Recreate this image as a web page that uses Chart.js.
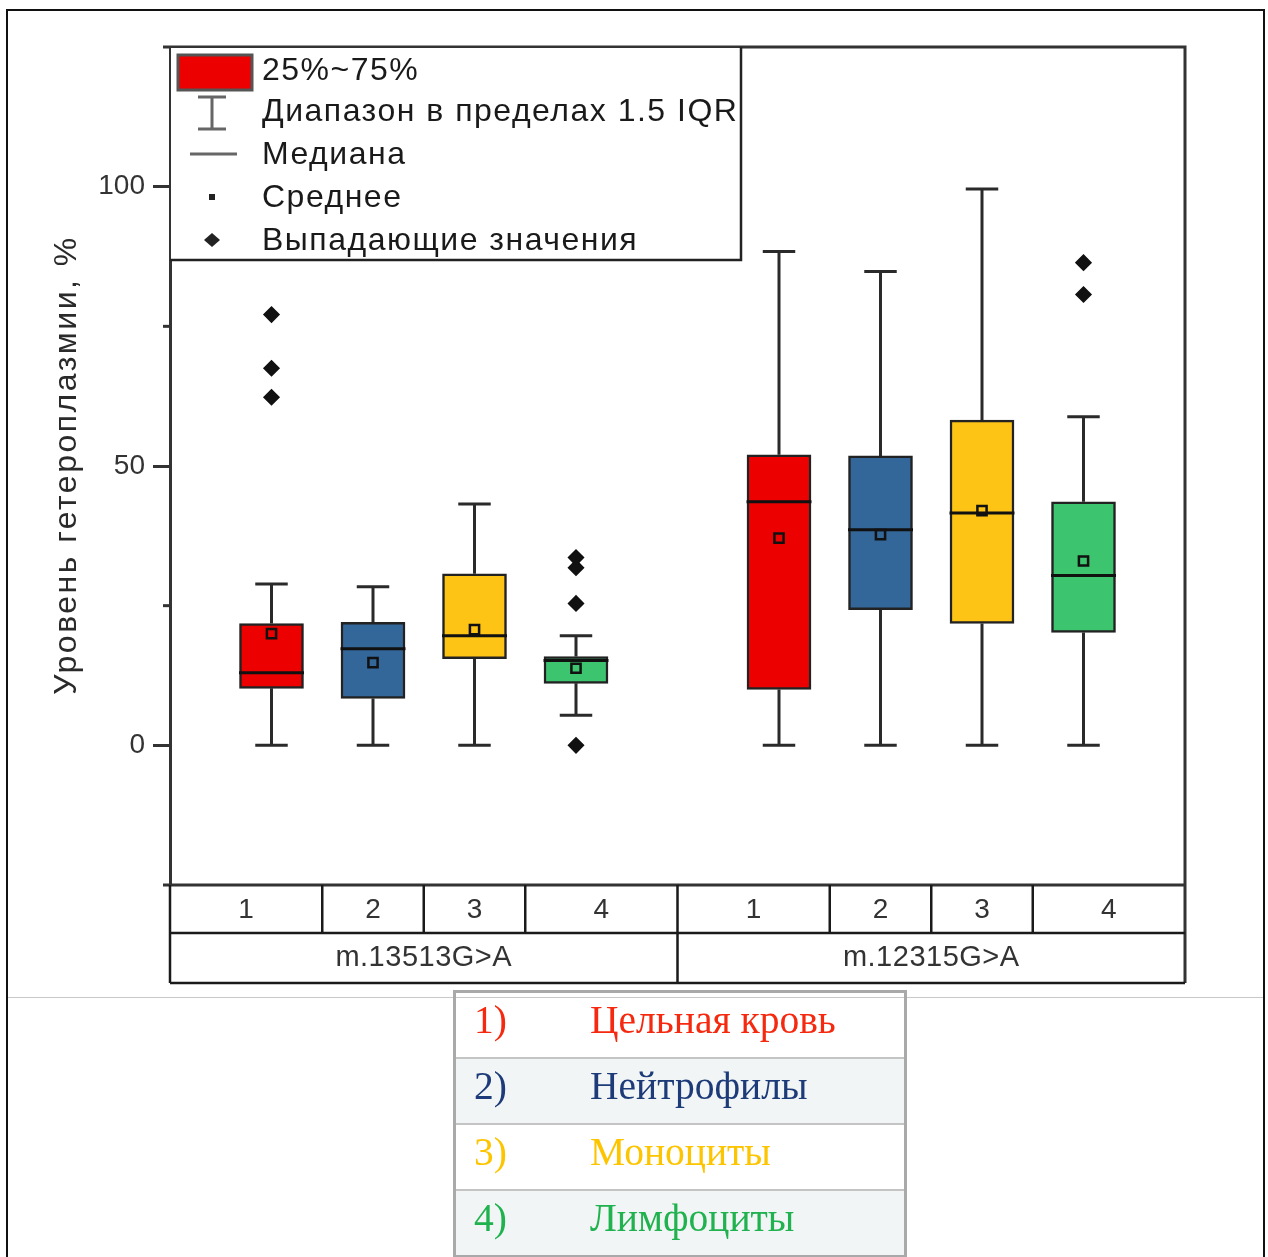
<!DOCTYPE html>
<html>
<head>
<meta charset="utf-8">
<script src="https://cdn.jsdelivr.net/npm/chart.js@4"></script>
<style>
  body { margin: 0; background: #fff; }
  #page { position: relative; width: 1268px; height: 1257px; overflow: hidden; background: #fff; }
  #frame { position: absolute; left: 6px; top: 9px; width: 1255px; height: 1270px; border: 2px solid #111; }
  #sep { position: absolute; left: 8px; top: 997px; width: 1255px; height: 1px; background: #c8c8c8; }
  #chart { position: absolute; left: 0; top: 0; }
  #key { position: absolute; left: 453px; top: 990px; width: 454px; border-collapse: collapse;
         border: 3px solid #a9a9a9; font-family: "Liberation Serif", "Times New Roman", serif; font-size: 39.5px; }
  #key td { height: 56px; padding: 0 0 8px 0; border-bottom: 2px solid #c4c4c4; vertical-align: middle; line-height: 1; }
  #key tr:nth-child(even) td { background: #f1f5f5; }
  #key td.num { width: 116px; padding-left: 18px; }
</style>
</head>
<body>
<div id="page">
  <div id="frame"></div>
  <div id="sep"></div>
  <canvas id="chart" width="1268" height="1000"></canvas>
  <table id="key"></table>
</div>
<script>
// box positions on a 0..10 linear x scale
const xPos = [1, 2, 3, 4, 6, 7, 8, 9];
const q1 = [10.2, 8.4, 15.5, 11.1, 10.0, 24.3, 21.8, 20.2];
const q3 = [21.8, 22.0, 30.7, 15.9, 52.0, 51.8, 58.2, 43.6];
const medians = [13.0, 17.3, 19.6, 15.2, 43.6, 38.6, 41.6, 30.4];
const means = [20.0, 14.8, 20.7, 13.8, 37.1, 37.7, 42.0, 33.0];
const whiskerLow = [0, 0, 0, 5.4, 0, 0, 0, 0];
const whiskerHigh = [28.9, 28.4, 43.2, 19.6, 88.4, 84.8, 99.6, 58.8];
const outliers = [[77.1, 67.5, 62.3], [], [], [33.6, 31.8, 25.4, 0], [], [], [], [86.4, 80.7]];

const boxColors = ['#ec0000', '#336699', '#fdc315', '#3cc46f', '#ec0000', '#336699', '#fdc315', '#3cc46f'];

// x axis table
const cellLabels = ['1', '2', '3', '4', '1', '2', '3', '4'];
const cellEdges = [0, 1.5, 2.5, 3.5, 5, 6.5, 7.5, 8.5, 10];
const groupLabels = ['m.13513G>A', 'm.12315G>A'];
const groupEdges = [0, 5, 10];

const yTitle = 'Уровень гетероплазмии, %';
const yTickValues = [0, 50, 100];
const yMinorTicks = [25, 75];

// legend in plot
const legendLabels = ['25%~75%', 'Диапазон в пределах 1.5 IQR', 'Медиана', 'Среднее', 'Выпадающие значения'];

// key table under chart
const keyNums = ['1)', '2)', '3)', '4)'];
const keyNames = ['Цельная кровь', 'Нейтрофилы', 'Моноциты', 'Лимфоциты'];
const keyColors = ['#f5290f', '#1d3b78', '#fcc500', '#20b24f'];

const key = document.getElementById('key');
keyNames.forEach((name, i) => {
  const tr = document.createElement('tr');
  tr.innerHTML = '<td class="num" style="color:' + keyColors[i] + '">' + keyNums[i] + '</td>' +
    '<td style="color:' + keyColors[i] + '">' + name + '</td>';
  key.appendChild(tr);
});

const capHalf = 0.16, medHalf = 0.32;
const whiskerPts = [];
const medianPts = [];
xPos.forEach((x, i) => {
  whiskerPts.push({x: x - capHalf, y: whiskerLow[i]}, {x: x + capHalf, y: whiskerLow[i]}, {x: x, y: null});
  whiskerPts.push({x: x, y: whiskerLow[i]}, {x: x, y: q1[i]}, {x: x, y: null});
  whiskerPts.push({x: x, y: q3[i]}, {x: x, y: whiskerHigh[i]}, {x: x, y: null});
  whiskerPts.push({x: x - capHalf, y: whiskerHigh[i]}, {x: x + capHalf, y: whiskerHigh[i]}, {x: x, y: null});
  medianPts.push({x: x - medHalf, y: medians[i]}, {x: x + medHalf, y: medians[i]}, {x: x, y: null});
});
const meanPts = xPos.map((x, i) => ({x: x, y: means[i]}));
const outlierPts = [];
xPos.forEach((x, i) => outliers[i].forEach(v => outlierPts.push({x: x, y: v})));

const FONT = 'Liberation Sans, Arial, sans-serif';

const framePlugin = {
  id: 'frame',
  afterDraw(chart) {
    const ctx = chart.ctx, a = chart.chartArea, xs = chart.scales.x, ys = chart.scales.y;
    ctx.save();
    // top + right border
    ctx.strokeStyle = '#333';
    ctx.lineWidth = 3;
    ctx.beginPath();
    ctx.moveTo(a.left - 7, a.top);
    ctx.lineTo(a.right, a.top);
    ctx.lineTo(a.right, a.bottom + 98);
    ctx.stroke();
    // minor ticks
    yMinorTicks.forEach(v => {
      const y = ys.getPixelForValue(v);
      ctx.beginPath();
      ctx.moveTo(a.left - 7, y);
      ctx.lineTo(a.left, y);
      ctx.stroke();
    });
    // x axis line
    ctx.beginPath();
    ctx.moveTo(a.left - 7, a.bottom);
    ctx.lineTo(a.right, a.bottom);
    ctx.stroke();

    // y title
    ctx.save();
    ctx.translate(67, (a.top + a.bottom) / 2 - 1);
    ctx.rotate(-Math.PI / 2);
    ctx.fillStyle = '#2a2a2a';
    ctx.font = '32px ' + FONT;
    ctx.letterSpacing = '2.5px';
    ctx.textAlign = 'center';
    ctx.textBaseline = 'middle';
    ctx.fillText(yTitle, 0, 0);
    ctx.restore();

    // category table
    const r1 = a.bottom + 48, r2 = a.bottom + 98;
    ctx.strokeStyle = '#1a1a1a';
    ctx.lineWidth = 2.5;
    ctx.beginPath();
    ctx.moveTo(a.left, a.bottom); ctx.lineTo(a.left, r2);
    ctx.moveTo(a.left, r1); ctx.lineTo(a.right, r1);
    ctx.moveTo(a.left, r2); ctx.lineTo(a.right, r2);
    cellEdges.slice(1, -1).forEach(e => {
      const px = xs.getPixelForValue(e);
      ctx.moveTo(px, a.bottom); ctx.lineTo(px, groupEdges.includes(e) ? r2 : r1);
    });
    ctx.stroke();
    ctx.fillStyle = '#333';
    ctx.textAlign = 'center';
    ctx.textBaseline = 'middle';
    ctx.font = '28px ' + FONT;
    cellLabels.forEach((t, i) => {
      const cx = xs.getPixelForValue((cellEdges[i] + cellEdges[i + 1]) / 2);
      ctx.fillText(t, cx, a.bottom + 25);
    });
    ctx.font = '29px ' + FONT;
    ctx.letterSpacing = '0.5px';
    groupLabels.forEach((t, i) => {
      const cx = xs.getPixelForValue((groupEdges[i] + groupEdges[i + 1]) / 2);
      ctx.fillText(t, cx, r1 + 25);
    });

    // legend box
    const lx = a.left, ly = a.top, lw = 571, lh = 213;
    ctx.fillStyle = '#fff';
    ctx.fillRect(lx + 1, ly + 1, lw, lh);
    ctx.strokeStyle = '#222';
    ctx.lineWidth = 2.5;
    ctx.beginPath();
    ctx.moveTo(lx + lw, ly); ctx.lineTo(lx + lw, ly + lh); ctx.lineTo(lx, ly + lh);
    ctx.stroke();
    const rowY = [70, 111, 154, 197, 240].map(v => v - 47 + ly);
    // swatch
    ctx.fillStyle = boxColors[0];
    ctx.fillRect(lx + 8, ly + 8, 74, 35);
    ctx.strokeStyle = '#555';
    ctx.lineWidth = 3;
    ctx.strokeRect(lx + 8, ly + 8, 74, 35);
    // whisker icon
    const ix = lx + 42;
    ctx.strokeStyle = '#666';
    ctx.beginPath();
    ctx.moveTo(ix - 14, rowY[1] - 14); ctx.lineTo(ix + 14, rowY[1] - 14);
    ctx.moveTo(ix, rowY[1] - 14); ctx.lineTo(ix, rowY[1] + 18);
    ctx.moveTo(ix - 14, rowY[1] + 18); ctx.lineTo(ix + 14, rowY[1] + 18);
    ctx.stroke();
    // median icon
    ctx.beginPath();
    ctx.moveTo(ix - 22, rowY[2]); ctx.lineTo(ix + 25, rowY[2]);
    ctx.stroke();
    // mean icon
    ctx.fillStyle = '#222';
    ctx.fillRect(ix - 3, rowY[3] - 3, 6, 6);
    // outlier icon
    ctx.beginPath();
    ctx.moveTo(ix, rowY[4] - 7); ctx.lineTo(ix + 8, rowY[4]); ctx.lineTo(ix, rowY[4] + 7); ctx.lineTo(ix - 8, rowY[4]);
    ctx.closePath();
    ctx.fill();
    ctx.fillStyle = '#1a1a1a';
    ctx.textAlign = 'left';
    ctx.font = '32px ' + FONT;
    ctx.letterSpacing = '1.5px';
    legendLabels.forEach((t, i) => ctx.fillText(t, lx + 92, rowY[i] + 1));
    ctx.restore();
  }
};

new Chart(document.getElementById('chart'), {
  type: 'bar',
  data: {
    datasets: [
      {
        type: 'line',
        data: whiskerPts,
        borderColor: '#2a2a2a',
        borderWidth: 3,
        pointRadius: 0,
        spanGaps: false,
        order: 3
      },
      {
        type: 'bar',
        data: xPos.map((x, i) => ({x: x, y: [q1[i], q3[i]]})),
        backgroundColor: boxColors,
        borderColor: '#222',
        borderWidth: 2.5,
        borderSkipped: false,
        barThickness: 64,
        order: 2
      },
      {
        type: 'line',
        data: medianPts,
        borderColor: '#111',
        borderWidth: 3,
        pointRadius: 0,
        spanGaps: false,
        order: 1
      },
      {
        type: 'scatter',
        data: meanPts,
        pointStyle: 'rect',
        pointRadius: 6.5,
        backgroundColor: 'rgba(0,0,0,0)',
        borderColor: '#111',
        borderWidth: 2.5,
        order: 0
      },
      {
        type: 'scatter',
        data: outlierPts,
        pointStyle: 'rectRot',
        pointRadius: 7.5,
        backgroundColor: '#111',
        borderColor: '#111',
        borderWidth: 1.5,
        order: 0
      }
    ]
  },
  options: {
    responsive: false,
    animation: false,
    devicePixelRatio: 1,
    layout: {padding: {left: 0, top: 47, right: 83, bottom: 17}},
    plugins: {legend: {display: false}, tooltip: {enabled: false}},
    scales: {
      x: {
        type: 'linear',
        min: 0,
        max: 10,
        offset: false,
        grid: {display: false},
        border: {display: false},
        ticks: {display: false},
        afterFit(scale) { scale.height = 98; }
      },
      y: {
        min: -25,
        max: 125,
        grid: {drawOnChartArea: false, tickLength: 17, tickWidth: 3, color: '#333'},
        border: {display: true, width: 3, color: '#333'},
        ticks: {
          padding: 8,
          color: '#333',
          font: {family: FONT, size: 28},
          callback: v => String(v)
        },
        afterBuildTicks(scale) {
          scale.ticks = yTickValues.map(v => ({value: v}));
        },
        afterFit(scale) { scale.width = 170; }
      }
    }
  },
  plugins: [framePlugin]
});
</script>
</body>
</html>
